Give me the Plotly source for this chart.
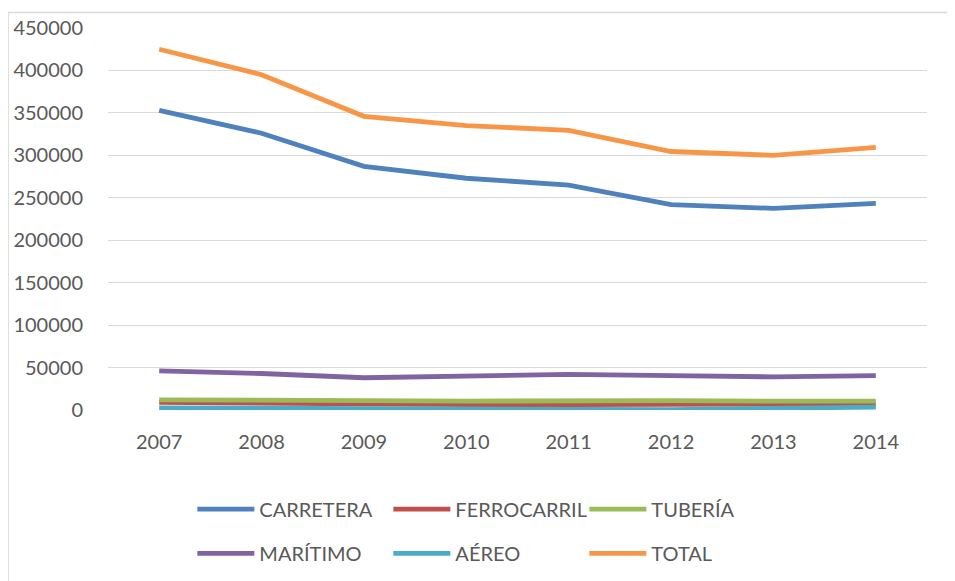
import plotly.graph_objects as go

years = ["2007", "2008", "2009", "2010", "2011", "2012", "2013", "2014"]

carretera = [353000, 326000, 287000, 273000, 265000, 242000, 237500, 243500]
ferrocarril = [9000, 8000, 6500, 6500, 6500, 6500, 6000, 7000]
tuberia = [12000, 12000, 11000, 10500, 11000, 11000, 10500, 10500]
maritimo = [46000, 43000, 38000, 40500, 42000, 40500, 39000, 40500]
aereo = [2500, 2000, 1500, 1500, 1500, 500, 2000, 3500]
total = [425000, 395000, 346000, 335000, 329500, 304500, 300000, 309500]

names = ["CARRETERA", "FERROCARRIL", "TUBERÍA", "MARÍTIMO", "AÉREO", "TOTAL"]
series = [carretera, ferrocarril, tuberia, maritimo, aereo, total]
colors = ["#4F81BD", "#C0504D", "#9BBB59", "#8064A2", "#4BACC6", "#F79646"]
legends = ["legend", "legend", "legend", "legend2", "legend2", "legend2"]

fig = go.Figure()
for name, vals, col, lg in zip(names, series, colors, legends):
    fig.add_trace(go.Scatter(x=years, y=vals, name=name, mode="lines",
                             line=dict(color=col, width=4.8), legend=lg))

font = dict(family="Lato", size=20, color="#595959")
leg = dict(orientation="h", xanchor="left", yanchor="middle", x=0.103,
           entrywidth=124, itemwidth=57, font=font, bgcolor="rgba(0,0,0,0)",
           traceorder="normal")

# the page body has an 8px margin, so everything is pulled up/left by 8px
fig.update_layout(
    width=955, height=581, autosize=False,
    margin=dict(l=100, r=36, t=20, b=179),
    paper_bgcolor="white", plot_bgcolor="white",
    font=font,
    legend=dict(leg, y=-0.2595),
    legend2=dict(leg, y=-0.3755),
    xaxis=dict(type="category", range=[-0.5, 7.5], showgrid=False,
               showline=False, ticks="", ticklabelstandoff=18, tickfont=font,
               automargin=False),
    yaxis=dict(range=[0, 450000], dtick=50000, tickformat="d",
               gridcolor="#D9D9D9", gridwidth=1.3, zeroline=False,
               showline=False, ticks="", ticklabelstandoff=24, tickfont=font,
               automargin=False),
    shapes=[dict(type="rect", xref="paper", yref="paper",
                 x0=-0.122, x1=1.2, y0=-0.6, y1=1.0406,
                 line=dict(color="#D9D9D9", width=1.5), layer="below")],
)

fig.write_html("out.html")
